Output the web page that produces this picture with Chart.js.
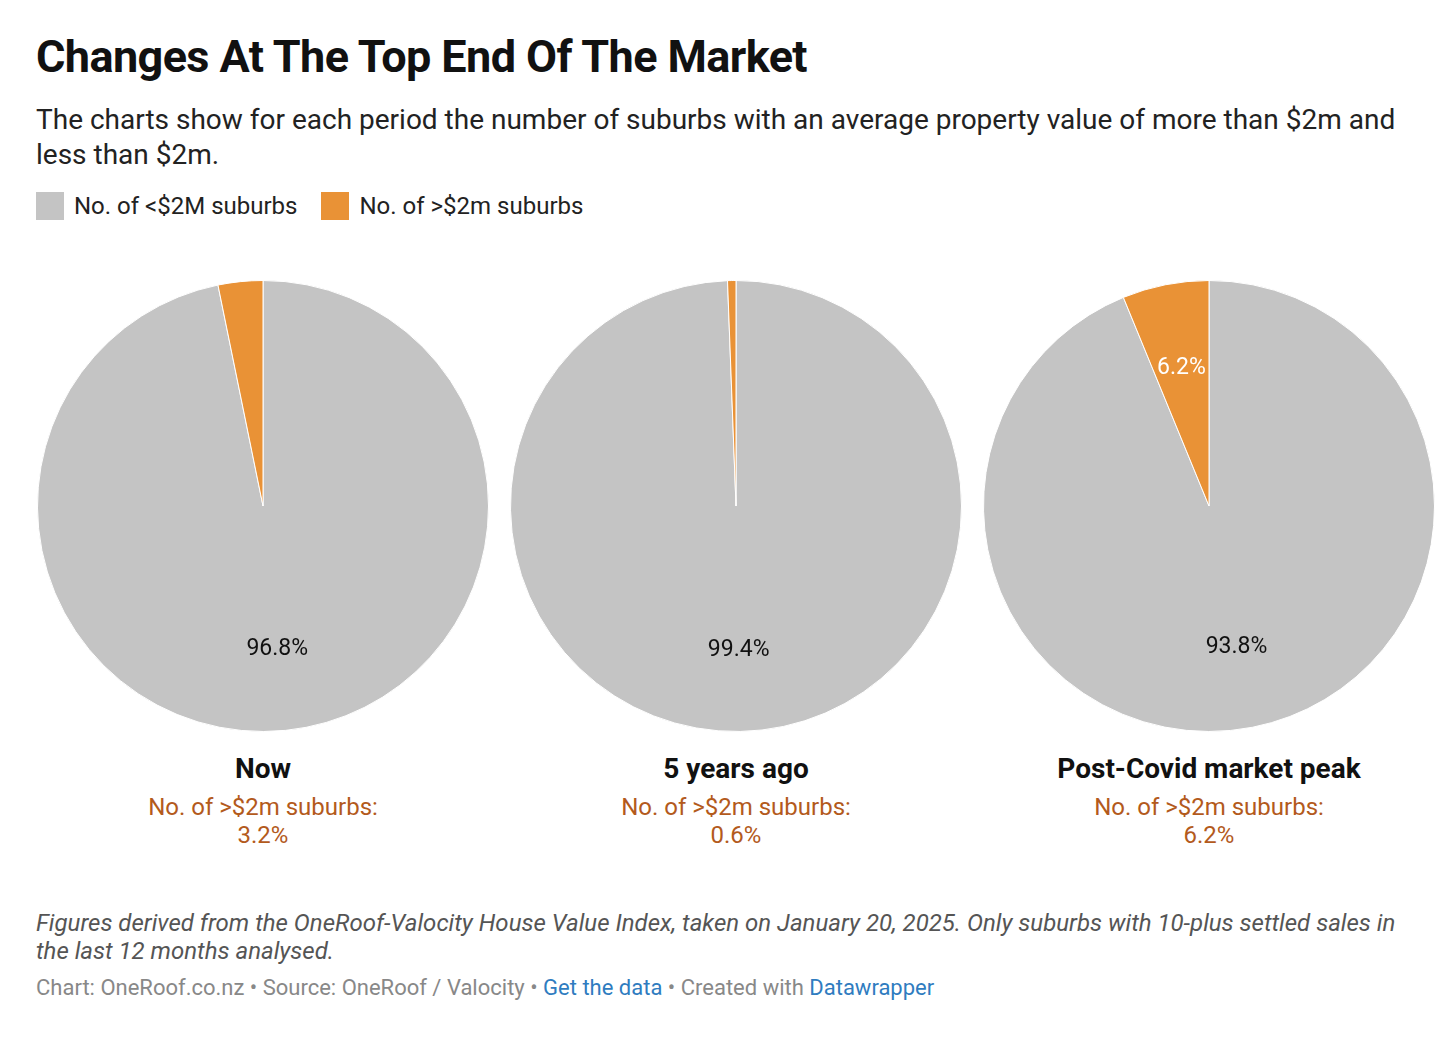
<!DOCTYPE html>
<html>
<head>
<meta charset="utf-8">
<script src="https://cdn.jsdelivr.net/npm/chart.js@4/dist/chart.umd.min.js"></script>
<style>
  body { margin: 0; background: #fff; font-family: Roboto, "Noto Sans", sans-serif; width: 1456px; height: 1038px; position: relative; overflow: hidden; }
  .abs { position: absolute; }
  #title { left: 36px; top: 30px; font-size: 45px; font-weight: 700; color: #111; letter-spacing: -0.6px; white-space: nowrap; }
  #sub { left: 36px; top: 102px; width: 1400px; font-size: 28px; line-height: 35px; color: #222; letter-spacing: 0px; }
  #legend { left: 36px; top: 192px; display: flex; font-size: 24px; color: #222; }
  .lg { display: flex; align-items: center; margin-right: 24px; }
  .sw { width: 28px; height: 28px; margin-right: 10px; }
  .pie { position: absolute; top: 280px; width: 452px; height: 452px; }
  .cap { position: absolute; top: 752px; width: 460px; text-align: center; }
  .cap .h { font-size: 28px; font-weight: 700; color: #111; height: 41px; }
  .cap .s { font-size: 24px; color: #b35a1c; line-height: 28px; }
  #note { left: 36px; top: 909px; width: 1375px; font-size: 24px; line-height: 28px; font-style: italic; color: #555; }
  #foot { left: 36px; top: 975px; font-size: 22px; color: #888; white-space: nowrap; }
  #foot a { color: #2f7cc0; text-decoration: none; }
</style>
</head>
<body>
<div id="title" class="abs">Changes At The Top End Of The Market</div>
<div id="sub" class="abs">The charts show for each period the number of suburbs with an average property value of more than $2m and less than $2m.</div>
<div id="legend" class="abs"></div>

<div class="pie" style="left:37px"><canvas id="pie0"></canvas></div>
<div class="pie" style="left:510px"><canvas id="pie1"></canvas></div>
<div class="pie" style="left:983px"><canvas id="pie2"></canvas></div>

<div id="cap0" class="cap"></div>
<div id="cap1" class="cap"></div>
<div id="cap2" class="cap"></div>

<div id="note" class="abs">Figures derived from the OneRoof-Valocity House Value Index, taken on January 20, 2025. Only suburbs with 10-plus settled sales in the last 12 months analysed.</div>
<div id="foot" class="abs">Chart: OneRoof.co.nz • Source: OneRoof / Valocity • <a>Get the data</a> • Created with <a>Datawrapper</a></div>

<script>
// dados
const periodos = ['Now', '5 years ago', 'Post-Covid market peak'];
const abaixo2m = [96.8, 99.4, 93.8];
const acima2m = [3.2, 0.6, 6.2];
const rotulos = ['No. of <$2M suburbs', 'No. of >$2m suburbs'];
const cores = ['#c4c4c4', '#e99236'];
const coresTexto = ['#111', '#fff'];
const centros = [263, 736, 1209];

// legenda
const legenda = document.getElementById('legend');
rotulos.forEach((r, i) => {
  legenda.innerHTML += `<div class="lg"><div class="sw" style="background:${cores[i]}"></div><span>${r}</span></div>`;
});

// rotulos dentro das fatias
const rotuloFatia = {
  id: 'rotuloFatia',
  afterDatasetsDraw(chart) {
    const ctx = chart.ctx;
    const meta = chart.getDatasetMeta(0);
    const dados = chart.data.datasets[0].data;
    ctx.save();
    ctx.font = '23px Roboto';
    ctx.textAlign = 'center';
    ctx.textBaseline = 'middle';
    meta.data.forEach((arc, i) => {
      if (dados[i] < 5) return;
      const p = arc.getProps(['x', 'y', 'startAngle', 'endAngle', 'outerRadius'], true);
      const meio = (p.startAngle + p.endAngle) / 2;
      const r = p.outerRadius * 0.63;
      ctx.fillStyle = coresTexto[i];
      ctx.fillText(dados[i].toFixed(1) + '%', p.x + Math.cos(meio) * r, p.y + Math.sin(meio) * r + 2);
    });
    ctx.restore();
  }
};

periodos.forEach((nome, i) => {
  new Chart(document.getElementById('pie' + i), {
    type: 'pie',
    data: {
      labels: rotulos,
      datasets: [{
        data: [abaixo2m[i], acima2m[i]],
        backgroundColor: cores,
        borderColor: '#fff',
        borderWidth: 1
      }]
    },
    options: {
      responsive: true,
      maintainAspectRatio: false,
      animation: false,
      plugins: { legend: { display: false }, tooltip: { enabled: false } }
    },
    plugins: [rotuloFatia]
  });

  const cap = document.getElementById('cap' + i);
  cap.style.left = (centros[i] - 230) + 'px';
  cap.innerHTML = `<div class="h">${nome}</div><div class="s">${rotulos[1]}:<br>${acima2m[i].toFixed(1)}%</div>`;
});
</script>
</body>
</html>
